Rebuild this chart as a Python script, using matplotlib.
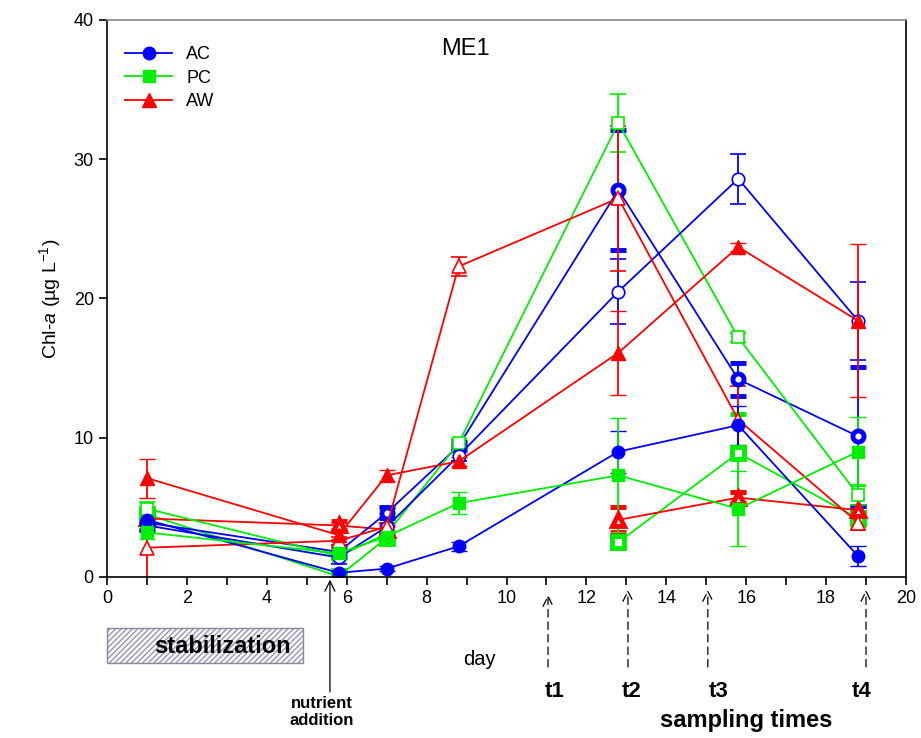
import numpy as np
import matplotlib
matplotlib.use("Agg")
from matplotlib import pyplot as plt

plt.rcParams['font.family'] = ['Liberation Sans', 'DejaVu Sans']
plt.rcParams['mathtext.fontset'] = 'custom'
plt.rcParams['mathtext.rm'] = 'Liberation Sans'
plt.rcParams['mathtext.it'] = 'Liberation Sans:italic'
plt.rcParams['hatch.color'] = '#8888a0'
plt.rcParams['hatch.linewidth'] = 0.8

nan = np.nan
days = [1, 5.8, 7, 8.8, 12.8, 15.8, 18.8]

# filled / open / dotted marker series for each treatment
ac_f = [4.1, 0.3, 0.6, 2.2, 9.0, 10.9, 1.5]
ac_o = [3.7, 1.4, 3.6, 8.7, 20.5, 28.6, 18.4]
ac_d = [3.9, 1.8, 4.6, 9.4, 27.8, 14.2, 10.1]
pc_f = [3.2, 1.7, 2.9, 5.3, 7.3, 4.9, 9.0]
pc_o = [4.9, 1.5, 3.1, 9.6, 32.6, 17.2, 5.9]
pc_d = [4.5, 0.05, 2.8, nan, 2.5, 8.9, 4.2]
aw_f = [7.1, 3.0, 7.3, 8.3, 16.1, 23.7, 18.4]
aw_o = [2.1, 2.6, 3.6, 22.3, 27.2, 11.3, 3.9]
aw_d = [4.2, 3.7, 3.4, nan, 4.1, 5.7, 4.8]

ac_f_err = [0.3, 0.2, 0.2, 0.3, 1.5, 1.4, 0.7]
ac_o_err = [0.4, 0.5, 0.3, 0.4, 2.3, 1.8, 2.8]
ac_d_err = [0.5, 0.4, 0.4, 0.3, 4.3, 1.2, 5.0]
pc_f_err = [0.5, 0.3, 0.3, 0.8, 4.1, 2.7, 2.5]
pc_o_err = [0.5, 0.3, 0.3, 0.3, 2.1, 0.3, 0.7]
pc_d_err = [0.4, 0.2, 0.3, nan, 0.4, 2.8, 0.5]
aw_f_err = [1.4, 0.3, 0.4, 0.3, 3.0, 0.3, 5.5]
aw_o_err = [2.5, 0.3, 0.3, 0.7, 5.2, 2.4, 0.5]
aw_d_err = [0.3, 0.3, 0.3, nan, 0.9, 0.4, 0.3]

sampling = [11.04, 13.04, 15.04, 19.0]
sampling_labels = ['t1', 't2', 't3', 't4']
sampling_label_x = [11.2, 13.14, 15.3, 18.9]
nutrient_day = 5.58

blue, green, red = '#0000ff', '#00ee00', '#ff0000'

fig = plt.figure(figsize=(9.21, 7.38), dpi=100)
ax = fig.add_axes([0.1162, 0.2182, 0.8675, 0.7547])

def series(y, err, color, marker, style, label=None):
    if style == 'f':
        kw = dict(mfc=color, mec=color, ms=9 if marker != '^' else 10, mew=1)
    elif style == 'o':
        kw = dict(mfc='white', mec=color, ms=9 if marker != '^' else 10, mew=1.2)
    else:
        kw = dict(mfc='white', mec=color, ms=8 if marker != '^' else 9, mew=3.5)
    ax.errorbar(days, y, yerr=err, color=color, marker=marker, lw=1.3,
                elinewidth=1.3, capsize=6, capthick=1.3, label=label, **kw)

series(pc_d, pc_d_err, green, 's', 'd')
series(aw_d, aw_d_err, red, '^', 'd')
series(ac_d, ac_d_err, blue, 'o', 'd')
series(pc_o, pc_o_err, green, 's', 'o')
series(ac_o, ac_o_err, blue, 'o', 'o')
series(aw_o, aw_o_err, red, '^', 'o')
series(ac_f, ac_f_err, blue, 'o', 'f', 'AC')
series(pc_f, pc_f_err, green, 's', 'f', 'PC')
series(aw_f, aw_f_err, red, '^', 'f', 'AW')

ax.set_xlim(0, 20)
ax.set_ylim(0, 40)
ax.set_xticks(range(0, 21, 2))
ax.set_xticks(range(0, 21), minor=True)
ax.set_yticks(range(0, 41, 10))
ax.tick_params(direction='out', length=6, width=1.2, labelsize=13)
ax.tick_params(which='minor', direction='out', length=6, width=1.2)
for s in ax.spines.values():
    s.set_linewidth(1.2)
ax.spines['top'].set_color('#888888')

ax.set_ylabel(r'Chl-$\mathit{a}$ (µg L$^{-1}$)', fontsize=14, labelpad=8)
ax.text(8.96, 37.9, 'ME1', fontsize=17, ha='center', va='center')

h, l = ax.get_legend_handles_labels()
h = [hh[0] for hh in h]
ax.legend(h, l, loc='upper left', bbox_to_anchor=(0.0, 0.985), frameon=False,
          fontsize=13, handlelength=2.6, labelspacing=0.35, borderaxespad=0.6)

# annotations below the axis (x in days, y in axes fraction)
tr = ax.get_xaxis_transform()
box = plt.Rectangle((0, -0.1544), 4.9, 0.0628, transform=tr, clip_on=False,
                    facecolor='#f6f6fa', edgecolor='#8888a0', hatch='//////', lw=1)
ax.add_patch(box)
ax.text(2.88, -0.1257, 'stabilization', transform=tr, fontsize=17,
        fontweight='bold', ha='center', va='center')
ax.text(9.31, -0.149, 'day', transform=tr, fontsize=14.5, ha='center', va='center')

ax.annotate('', xy=(nutrient_day, -0.005), xytext=(nutrient_day, -0.2065),
            xycoords=tr, textcoords=tr, annotation_clip=False,
            arrowprops=dict(arrowstyle='->', lw=0.9, color='black',
                            mutation_scale=18, shrinkA=0, shrinkB=0))
ax.text(5.38, -0.2424, 'nutrient\naddition', transform=tr, fontsize=12,
        fontweight='bold', ha='center', va='center', linespacing=1.15)

for i, t in enumerate(sampling):
    top = -0.0323 if i == 0 else -0.0233
    ax.annotate('', xy=(t, top), xytext=(t, -0.1616), xycoords=tr,
                textcoords=tr, annotation_clip=False,
                arrowprops=dict(arrowstyle='->', lw=0.9, color='black',
                                linestyle=(0, (6, 4)), mutation_scale=18,
                                shrinkA=0, shrinkB=0))
for lx, lab in zip(sampling_label_x, sampling_labels):
    ax.text(lx, -0.2065, lab, transform=tr, fontsize=16, fontweight='bold',
            ha='center', va='center')
ax.text(16.0, -0.258, 'sampling times', transform=tr, fontsize=17,
        fontweight='bold', ha='center', va='center')

fig.savefig('out.png', dpi=100)
